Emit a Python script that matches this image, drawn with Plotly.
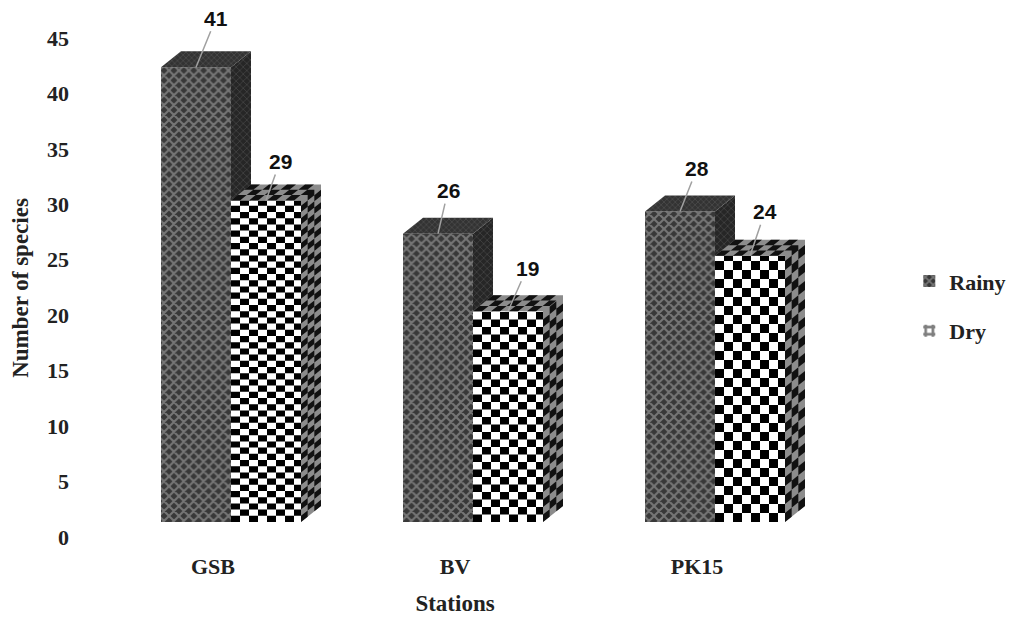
import plotly.graph_objects as go

stations = ["GSB", "BV", "PK15"]
rainy = [41, 26, 28]
dry = [29, 19, 24]
y_ticks = [0, 5, 10, 15, 20, 25, 30, 35, 40, 45]
label_offsets_rainy = [(20, -49), (10, -43), (17, -43)]
label_offsets_dry = [(14, -39), (19, -43), (15, -44)]
dry_row_px = [6.2, 7.5, 9.0]

# px <-> data scale
L, R, T, B = 70, 840, 21, 555
PX_X = 242.0
PX_Y = 11.09
x_rng = [(L - 213) / PX_X, (R - 213) / PX_X]
y_rng = [(537 - B) / PX_Y, (537 - T) / PX_Y]
X_SHIFT = 18 / PX_X
BASE = 15 / PX_Y
DX = 20 / PX_X
DY = 16 / PX_Y
W = 70 / PX_X
CELL_X = 9 / PX_X


def add_poly(xs, ys, pts):
    for p in pts:
        xs.append(p[0])
        ys.append(p[1])
    xs.append(pts[0][0])
    ys.append(pts[0][1])
    xs.append(None)
    ys.append(None)


fig = go.Figure()
pos = [i + X_SHIFT for i in range(len(stations))]

fig.add_bar(
    x=pos, y=rainy, base=[BASE] * 3, name="Rainy", width=W, offset=-W,
    legendgroup="r",
    marker=dict(color="#4a4a4a", line=dict(width=0),
                pattern=dict(shape="x", size=7, solidity=0.5, bgcolor="#383838", fgcolor="#b4b4b4")),
)
fig.add_bar(
    x=pos, y=dry, base=[BASE] * 3, name="Dry", width=W, offset=0,
    legendgroup="d",
    marker=dict(color="white", line=dict(width=0),
                pattern=dict(shape="+", size=9, solidity=0.6, bgcolor="white", fgcolor="black")),
)

# rainy side and top faces
sx, sy, tx, ty = [], [], [], []
for i, v in enumerate(rainy):
    right = pos[i]
    top = BASE + v
    add_poly(sx, sy, [(right, BASE), (right + DX, BASE + DY), (right + DX, top + DY), (right, top)])
    add_poly(tx, ty, [(right - W, top), (right - W + DX, top + DY), (right + DX, top + DY), (right, top)])
fig.add_scatter(x=sx, y=sy, mode="lines", fill="toself", line=dict(width=0), showlegend=False,
                hoverinfo="skip", fillcolor="#2e2e2e",
                fillpattern=dict(shape="x", size=5, solidity=0.3, bgcolor="#262626", fgcolor="#606060"))
fig.add_scatter(x=tx, y=ty, mode="lines", fill="toself", line=dict(width=0), showlegend=False,
                hoverinfo="skip", fillcolor="#3a3a3a",
                fillpattern=dict(shape="x", size=4, solidity=0.3, bgcolor="#333333", fgcolor="#6e6e6e"))

# dry: white backing, then checker cells on front, side, top
wx, wy, fx, fy, gx, gy, kx, ky = [], [], [], [], [], [], [], []
for i, v in enumerate(dry):
    left = pos[i]
    top = BASE + v
    add_poly(wx, wy, [(left, BASE), (left + W, BASE), (left + W, top), (left, top)])
    add_poly(gx, gy, [(left + W, BASE), (left + W + DX, BASE + DY), (left + W + DX, top + DY), (left + W, top)])
    add_poly(gx, gy, [(left, top), (left + DX, top + DY), (left + W + DX, top + DY), (left + W, top)])
    h = dry_row_px[i] / PX_Y
    nrows = int(v / h)
    ncols = int(W / CELL_X)
    for r in range(nrows + 1):
        y0 = BASE + r * h
        y1 = min(BASE + (r + 1) * h, top)
        if y0 >= top:
            continue
        for c in range(ncols + 1):
            x0 = left + c * CELL_X
            x1 = min(left + (c + 1) * CELL_X, left + W)
            if x0 >= left + W or (r + c) % 2:
                continue
            add_poly(fx, fy, [(x0, y0), (x1, y0), (x1, y1), (x0, y1)])
    # side face: sheared cells
    n = 3
    for r in range(nrows + 1):
        y0 = BASE + r * h
        y1 = min(BASE + (r + 1) * h, top)
        if y0 >= top:
            continue
        for c in range(n):
            if (r + c) % 2:
                continue
            a, b = c / n, (c + 1) / n
            X = left + W
            add_poly(kx, ky, [(X + a * DX, y0 + a * DY), (X + b * DX, y0 + b * DY),
                              (X + b * DX, y1 + b * DY), (X + a * DX, y1 + a * DY)])
    # top face: sheared cells
    for r in range(3):
        for c in range(ncols + 1):
            if (r + c) % 2:
                continue
            a, b = r / 3, (r + 1) / 3
            x0 = c * CELL_X
            x1 = min((c + 1) * CELL_X, W)
            if x0 >= W:
                continue
            add_poly(kx, ky, [(left + x0 + a * DX, top + a * DY), (left + x1 + a * DX, top + a * DY),
                              (left + x1 + b * DX, top + b * DY), (left + x0 + b * DX, top + b * DY)])

for xs, ys, col in [(wx, wy, "white"), (fx, fy, "black"), (gx, gy, "#8c8c8c"), (kx, ky, "#111111")]:
    fig.add_scatter(x=xs, y=ys, mode="lines", fill="toself", fillcolor=col, line=dict(width=0),
                    showlegend=False, hoverinfo="skip")

anns = []
for vals, offs, d in [(rainy, label_offsets_rainy, -W / 2), (dry, label_offsets_dry, W / 2)]:
    for i, v in enumerate(vals):
        anns.append(dict(
            x=pos[i] + d, y=BASE + v, text=str(v), showarrow=True, arrowhead=0, arrowwidth=1.5,
            arrowcolor="#a0a0a0", ax=offs[i][0], ay=offs[i][1], standoff=0,
            font=dict(family="Liberation Sans", size=21, color="#111111", weight=700),
        ))

serif = dict(family="Liberation Serif", color="#222222", weight=700)
fig.update_layout(
    width=1018, height=618,
    margin=dict(l=L, r=1018 - R, t=T, b=618 - B, autoexpand=False),
    paper_bgcolor="white", plot_bgcolor="white",
    barmode="overlay",
    annotations=anns,
    xaxis=dict(range=x_rng, tickmode="array", tickvals=list(range(3)), ticktext=stations,
               showgrid=False, zeroline=False, showline=False, ticks="", automargin=False,
               tickfont=dict(size=22, **serif), ticklabelstandoff=-4,
               title=dict(text="Stations", font=dict(size=23, **serif), standoff=16)),
    yaxis=dict(range=y_rng, tickmode="array", tickvals=y_ticks,
               showgrid=False, zeroline=False, showline=False, ticks="", automargin=False,
               tickfont=dict(size=22, **serif),
               title=dict(text="Number of species", font=dict(size=23, **serif), standoff=11)),
    legend=dict(x=1.09, y=0.552, xanchor="left", yanchor="top", font=dict(size=22, **serif),
                tracegroupgap=18, itemwidth=30, bgcolor="rgba(0,0,0,0)"),
)
fig.write_html("out.html", post_script="document.body.style.margin='0';",
               config={"displayModeBar": False})
